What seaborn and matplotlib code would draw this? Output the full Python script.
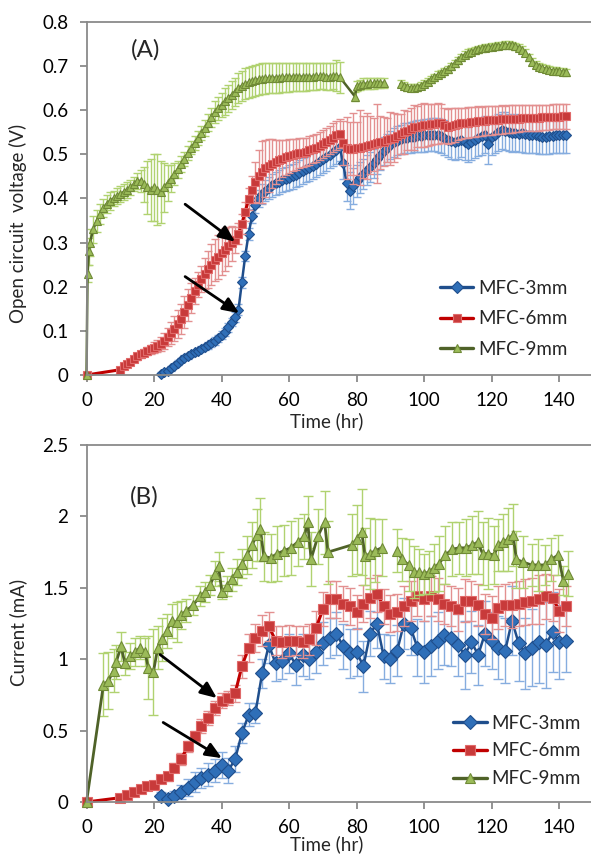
import numpy as np
import pandas as pd
import seaborn as sns
import matplotlib.pyplot as plt
from matplotlib.lines import Line2D
from matplotlib.ticker import FuncFormatter, MultipleLocator

# ---------------- (A) open circuit voltage (V), hourly readings ----------------
hours_a_3mm = np.arange(22, 143)
ocv_3mm = [
    0.003, 0.006, 0.010, 0.015, 0.021, 0.028, 0.034, 0.039, 0.043, 0.047,
    0.051, 0.055, 0.059, 0.063, 0.067, 0.072, 0.077, 0.083, 0.090, 0.098,
    0.108, 0.120, 0.132, 0.148, 0.210, 0.270, 0.320, 0.360, 0.385, 0.400,
    0.410, 0.418, 0.424, 0.430, 0.434, 0.438, 0.441, 0.444, 0.447, 0.450,
    0.454, 0.458, 0.462, 0.466, 0.470, 0.474, 0.479, 0.484, 0.489, 0.494,
    0.499, 0.505, 0.510, 0.517, 0.480, 0.435, 0.418, 0.428, 0.440, 0.448,
    0.456, 0.464, 0.472, 0.480, 0.489, 0.498, 0.507, 0.515, 0.522, 0.527,
    0.531, 0.534, 0.536, 0.537, 0.539, 0.540, 0.541, 0.542, 0.543, 0.544,
    0.545, 0.545, 0.544, 0.542, 0.538, 0.533, 0.530, 0.528, 0.530, 0.533,
    0.528, 0.523, 0.528, 0.533, 0.538, 0.541, 0.544, 0.523, 0.540, 0.545,
    0.550, 0.555, 0.553, 0.550, 0.548, 0.549, 0.547, 0.548, 0.546, 0.544,
    0.545, 0.543, 0.541, 0.540, 0.540, 0.541, 0.542, 0.543, 0.544, 0.543,
    0.544,
]
ocv_3mm_err = [
    0.003, 0.004, 0.004, 0.005, 0.005, 0.005, 0.005, 0.006, 0.006, 0.006,
    0.006, 0.006, 0.007, 0.007, 0.007, 0.008, 0.008, 0.008, 0.009, 0.009,
    0.010, 0.010, 0.011, 0.012, 0.012, 0.012, 0.014, 0.016, 0.018, 0.020,
    0.022, 0.024, 0.025, 0.026, 0.026, 0.027, 0.027, 0.028, 0.028, 0.028,
    0.028, 0.029, 0.029, 0.029, 0.030, 0.030, 0.030, 0.030, 0.031, 0.031,
    0.031, 0.031, 0.032, 0.032, 0.035, 0.040, 0.042, 0.040, 0.036, 0.035,
    0.034, 0.034, 0.034, 0.033, 0.033, 0.033, 0.032, 0.032, 0.032, 0.032,
    0.033, 0.033, 0.034, 0.034, 0.035, 0.035, 0.036, 0.036, 0.037, 0.037,
    0.038, 0.038, 0.038, 0.039, 0.039, 0.039, 0.040, 0.040, 0.040, 0.040,
    0.040, 0.040, 0.041, 0.041, 0.041, 0.042, 0.042, 0.045, 0.042, 0.042,
    0.042, 0.042, 0.042, 0.042, 0.042, 0.042, 0.042, 0.042, 0.042, 0.041,
    0.041, 0.041, 0.041, 0.040, 0.040, 0.040, 0.040, 0.040, 0.040, 0.040,
    0.040,
]

hours_a_6mm = np.r_[0, np.arange(10, 143)]
ocv_6mm = [
    0.000,
    0.012, 0.020, 0.025, 0.030, 0.036, 0.042, 0.047, 0.050, 0.054, 0.058,
    0.062, 0.066, 0.071, 0.078, 0.086, 0.095, 0.105, 0.115, 0.127, 0.142,
    0.158, 0.174, 0.190, 0.205, 0.218, 0.230, 0.240, 0.250, 0.260, 0.268,
    0.276, 0.284, 0.292, 0.298, 0.306, 0.320, 0.342, 0.370, 0.398, 0.420,
    0.437, 0.450, 0.460, 0.468, 0.474, 0.479, 0.483, 0.487, 0.490, 0.493,
    0.496, 0.498, 0.500, 0.502, 0.504, 0.506, 0.509, 0.512, 0.515, 0.519,
    0.523, 0.528, 0.533, 0.538, 0.543, 0.547, 0.525, 0.515, 0.513, 0.513,
    0.514, 0.515, 0.517, 0.519, 0.521, 0.523, 0.525, 0.527, 0.529, 0.532,
    0.535, 0.538, 0.542, 0.546, 0.550, 0.554, 0.558, 0.561, 0.563, 0.565,
    0.566, 0.567, 0.568, 0.569, 0.570, 0.570, 0.566, 0.563, 0.565, 0.567,
    0.569, 0.570, 0.571, 0.572, 0.573, 0.574, 0.575, 0.575, 0.576, 0.577,
    0.577, 0.578, 0.578, 0.579, 0.579, 0.580, 0.580, 0.581, 0.581, 0.582,
    0.582, 0.582, 0.583, 0.583, 0.583, 0.584, 0.584, 0.584, 0.585, 0.585,
    0.585, 0.586, 0.586,
]
ocv_6mm_err = [
    0.000,
    0.004, 0.005, 0.006, 0.006, 0.007, 0.007, 0.008, 0.008, 0.009, 0.010,
    0.012, 0.014, 0.016, 0.018, 0.020, 0.024, 0.028, 0.032, 0.035, 0.036,
    0.036, 0.034, 0.030, 0.028, 0.030, 0.036, 0.042, 0.046, 0.048, 0.050,
    0.050, 0.048, 0.044, 0.040, 0.030, 0.024, 0.022, 0.022, 0.025, 0.030,
    0.045, 0.060, 0.070, 0.065, 0.060, 0.055, 0.050, 0.045, 0.042, 0.040,
    0.038, 0.036, 0.035, 0.034, 0.033, 0.032, 0.032, 0.032, 0.032, 0.032,
    0.032, 0.032, 0.032, 0.032, 0.032, 0.032, 0.050, 0.070, 0.060, 0.080,
    0.060, 0.085, 0.070, 0.075, 0.065, 0.060, 0.090, 0.060, 0.055, 0.050,
    0.060, 0.055, 0.050, 0.045, 0.050, 0.045, 0.048, 0.050, 0.046, 0.048,
    0.050, 0.048, 0.046, 0.045, 0.046, 0.045, 0.040, 0.040, 0.040, 0.038,
    0.036, 0.036, 0.035, 0.035, 0.034, 0.034, 0.034, 0.033, 0.033, 0.033,
    0.032, 0.032, 0.032, 0.032, 0.031, 0.031, 0.031, 0.030, 0.030, 0.030,
    0.030, 0.030, 0.029, 0.029, 0.029, 0.028, 0.028, 0.028, 0.028, 0.028,
    0.028, 0.028, 0.028,
]

hours_a_9mm = np.r_[0, 0.3, 0.7, np.arange(1, 76), 79.5, np.arange(80, 89), 90.5, np.arange(93, 143)]
ocv_9mm = [
    0.000, 0.230, 0.280,
    0.300, 0.330, 0.350, 0.365, 0.378, 0.388, 0.395, 0.400, 0.405, 0.410,
    0.415, 0.420, 0.425, 0.432, 0.440, 0.440, 0.432, 0.425, 0.420, 0.425,
    0.420, 0.415, 0.425, 0.435, 0.445, 0.455, 0.466, 0.478, 0.490, 0.503,
    0.515, 0.526, 0.537, 0.548, 0.560, 0.572, 0.584, 0.596, 0.604, 0.612,
    0.620, 0.627, 0.635, 0.642, 0.650, 0.655, 0.660, 0.663, 0.666, 0.668,
    0.670, 0.671, 0.672, 0.673, 0.673, 0.674, 0.674, 0.675, 0.675, 0.675,
    0.676, 0.676, 0.676, 0.676, 0.676, 0.676, 0.676, 0.677, 0.677, 0.677,
    0.676, 0.676, 0.677, 0.678, 0.675,
    0.631,
    0.655, 0.657, 0.660, 0.660, 0.661, 0.661, 0.662, 0.662, 0.662,
    np.nan,
    0.660, 0.655, 0.652, 0.651, 0.651, 0.652, 0.655, 0.660, 0.665, 0.670,
    0.675, 0.680, 0.684, 0.688, 0.693, 0.700, 0.706, 0.713, 0.720, 0.726,
    0.730, 0.733, 0.736, 0.738, 0.740, 0.742, 0.743, 0.744, 0.745, 0.746,
    0.747, 0.748, 0.748, 0.747, 0.745, 0.742, 0.737, 0.730, 0.720, 0.710,
    0.703, 0.699, 0.696, 0.694, 0.692, 0.690, 0.689, 0.688, 0.687, 0.686,
]
ocv_9mm_err = [
    0.000, 0.020, 0.030,
    0.030, 0.030, 0.025, 0.022, 0.020, 0.020, 0.020, 0.018, 0.018, 0.018,
    0.018, 0.018, 0.016, 0.016, 0.018, 0.025, 0.040, 0.060, 0.070, 0.075,
    0.080, 0.070, 0.055, 0.040, 0.030, 0.025, 0.020, 0.018, 0.016, 0.015,
    0.015, 0.015, 0.016, 0.016, 0.018, 0.020, 0.022, 0.024, 0.026, 0.028,
    0.030, 0.030, 0.032, 0.032, 0.034, 0.034, 0.035, 0.035, 0.035, 0.035,
    0.035, 0.035, 0.035, 0.035, 0.034, 0.034, 0.034, 0.033, 0.033, 0.033,
    0.032, 0.032, 0.032, 0.032, 0.032, 0.031, 0.031, 0.031, 0.030, 0.030,
    0.030, 0.030, 0.030, 0.035, 0.035,
    0.010,
    0.012, 0.012, 0.012, 0.012, 0.012, 0.012, 0.012, 0.012, 0.012,
    np.nan,
    0.008, 0.008, 0.008, 0.008, 0.008, 0.008, 0.008, 0.008, 0.008, 0.008,
    0.008, 0.008, 0.008, 0.008, 0.008, 0.008, 0.008, 0.008, 0.008, 0.008,
    0.008, 0.008, 0.008, 0.008, 0.008, 0.008, 0.008, 0.008, 0.008, 0.008,
    0.008, 0.008, 0.008, 0.008, 0.008, 0.008, 0.008, 0.008, 0.008, 0.008,
    0.008, 0.008, 0.008, 0.008, 0.008, 0.008, 0.008, 0.008, 0.008, 0.008,
]

# ---------------- (B) current (mA) ----------------
hours_b_3mm = np.arange(22, 143, 2)
cur_3mm = [
    0.04, 0.02, 0.04, 0.07, 0.10, 0.14, 0.17, 0.19, 0.22, 0.26,
    0.22, 0.30, 0.48, 0.61, 0.62, 0.90, 1.10, 0.97, 0.99, 1.04,
    0.96, 1.03, 1.00, 1.05, 1.11, 1.15, 1.18, 1.09, 1.04, 1.05,
    0.95, 1.18, 1.25, 1.02, 1.00, 1.06, 1.25, 1.22, 1.08, 1.05,
    1.09, 1.13, 1.17, 1.15, 1.10, 1.03, 1.12, 1.03, 1.18, 1.13,
    1.08, 1.06, 1.27, 1.11, 1.04, 1.08, 1.12, 1.10, 1.19, 1.12,
    1.13,
]
cur_3mm_err = [
    0.03, 0.03, 0.04, 0.05, 0.06, 0.07, 0.07, 0.08, 0.08, 0.09,
    0.09, 0.09, 0.07, 0.08, 0.07, 0.10, 0.13, 0.12, 0.13, 0.14,
    0.14, 0.15, 0.14, 0.15, 0.15, 0.14, 0.15, 0.16, 0.17, 0.17,
    0.18, 0.16, 0.17, 0.16, 0.17, 0.18, 0.18, 0.19, 0.20, 0.22,
    0.21, 0.20, 0.21, 0.20, 0.22, 0.24, 0.22, 0.21, 0.23, 0.20,
    0.22, 0.23, 0.24, 0.26, 0.25, 0.27, 0.29, 0.30, 0.28, 0.26,
    0.22,
]

hours_b_6mm = np.r_[0, np.arange(10, 143, 2)]
cur_6mm = [
    0.00,
    0.03, 0.05, 0.07, 0.09, 0.11, 0.12, 0.16, 0.18, 0.24, 0.30,
    0.39, 0.46, 0.53, 0.59, 0.66, 0.71, 0.73, 0.76, 0.95, 1.08,
    1.15, 1.20, 1.23, 1.13, 1.12, 1.13, 1.13, 1.12, 1.14, 1.22,
    1.35, 1.42, 1.42, 1.39, 1.37, 1.33, 1.39, 1.43, 1.46, 1.37,
    1.32, 1.33, 1.37, 1.41, 1.44, 1.42, 1.44, 1.42, 1.39, 1.37,
    1.35, 1.41, 1.41, 1.38, 1.32, 1.29, 1.36, 1.38, 1.38, 1.39,
    1.40, 1.41, 1.42, 1.44, 1.43, 1.34, 1.37,
]
cur_6mm_err = [
    0.00,
    0.01, 0.02, 0.02, 0.02, 0.02, 0.02, 0.03, 0.03, 0.03, 0.04,
    0.04, 0.04, 0.05, 0.05, 0.05, 0.05, 0.05, 0.06, 0.08, 0.10,
    0.10, 0.11, 0.10, 0.10, 0.11, 0.11, 0.10, 0.11, 0.11, 0.12,
    0.12, 0.13, 0.13, 0.12, 0.13, 0.12, 0.13, 0.14, 0.13, 0.12,
    0.13, 0.13, 0.14, 0.14, 0.14, 0.15, 0.14, 0.15, 0.14, 0.14,
    0.15, 0.15, 0.14, 0.15, 0.14, 0.15, 0.15, 0.15, 0.16, 0.16,
    0.16, 0.16, 0.17, 0.16, 0.16, 0.15, 0.14,
]

hours_b_9mm = [
    0, 5.0, 6.5, 8.0, 8.8, 10.2, 11.4, 12.9, 14.4, 15.8, 17.3, 18.3, 19.8,
    21.1, 22.5, 23.8, 25.2, 26.7, 28.1, 29.6, 31.6, 33.6, 35.1, 36.6, 38.1,
    39.1, 40.1, 41.6, 43.0, 44.5, 46.0, 47.5, 49.0, 50.5, 51.5, 52.5, 54.5,
    56.5, 58.5, 60.5, 62.5, 64.5, 65.5, 66.5, 68.5, 70.5, 71.5, 78.5, 80.0,
    81.5, 82.5, 84.0, 85.5, 87.4, 89.5, 91.9, 93.4, 95.4, 96.9, 98.4, 99.9,
    101.4, 102.9, 104.4, 106.3, 108.3, 110.3, 112.3, 114.3, 115.8, 117.3,
    118.8, 120.8, 121.8, 123.3, 124.8, 126.3, 127.3, 129.3, 131.8, 133.8,
    135.7, 137.7, 139.7, 141.2, 142.7,
]
cur_9mm = [
    0.00, 0.82, 0.85, 0.92, 0.98, 1.09, 0.97, 1.02, 1.05, 1.08, 1.05, 0.94, 0.91,
    1.08, 1.14, 1.20, 1.27, 1.26, 1.31, 1.34, 1.38, 1.44, 1.47, 1.52, 1.60,
    1.65, 1.47, 1.51, 1.56, 1.61, 1.67, 1.73, 1.80, 1.87, 1.91, 1.72, 1.71,
    1.74, 1.76, 1.78, 1.82, 1.86, 1.96, 1.70, 1.86, 1.96, 1.75, 1.80, 1.84,
    1.89, 1.72, 1.74, 1.76, 1.78, np.nan, 1.76, 1.70, 1.66, 1.61, 1.61, 1.60,
    1.61, 1.64, 1.67, 1.73, 1.77, 1.78, 1.78, 1.80, 1.82, 1.74,
    1.74, 1.73, 1.80, 1.82, 1.84, 1.87, 1.70, 1.68, 1.66, 1.66,
    1.66, 1.70, 1.73, 1.55, 1.60,
]
cur_9mm_err = [
    0.00, 0.22, 0.20, 0.15, 0.12, 0.10, 0.08, 0.09, 0.10, 0.08, 0.10, 0.22, 0.30,
    0.15, 0.15, 0.12, 0.12, 0.14, 0.10, 0.08, 0.07, 0.07, 0.07, 0.07, 0.09,
    0.10, 0.05, 0.07, 0.08, 0.09, 0.10, 0.13, 0.16, 0.18, 0.22, 0.17, 0.17,
    0.19, 0.18, 0.19, 0.17, 0.16, 0.18, 0.19, 0.19, 0.22, 0.22, 0.22, 0.24,
    0.30, 0.20, 0.25, 0.22, 0.20, np.nan, 0.15, 0.15, 0.18, 0.18, 0.16, 0.14,
    0.15, 0.17, 0.19, 0.20, 0.19, 0.18, 0.20, 0.20, 0.22, 0.22,
    0.25, 0.20, 0.18, 0.20, 0.22, 0.22, 0.20, 0.18, 0.15, 0.18,
    0.14, 0.15, 0.14, 0.10, 0.16,
]

series_names = ["MFC-3mm", "MFC-6mm", "MFC-9mm"]
styles = {
    "MFC-3mm": dict(line="#1f4e8c", face="#2f6fb8", edge="#1f4e8c", err="#86addf", marker="D"),
    "MFC-6mm": dict(line="#c00000", face="#c83a3a", edge="#e06a6a", err="#e39090", marker="s"),
    "MFC-9mm": dict(line="#4f6228", face="#9bbb59", edge="#6f8a36", err="#b0d270", marker="^"),
}
AX_GRAY = "#8a8a8a"

sns.set_theme(style="ticks")
plt.rcParams["font.family"] = ["Lato", "DejaVu Sans"]


def draw(ax, hours, vals, errs, name, ms, lw, cap):
    st = styles[name]
    t = np.asarray(hours, float)
    v = np.asarray(vals, float)
    e = np.asarray(errs, float)
    ax.errorbar(t, v, yerr=e, fmt="none", ecolor=st["err"], elinewidth=1,
                capsize=cap, capthick=1)
    # a missing reading breaks the line, as in the original sheet
    df = pd.DataFrame({"t": t, "v": v, "seg": np.cumsum(np.isnan(v))}).dropna()
    for _, d in df.groupby("seg"):
        sns.lineplot(data=d, x="t", y="v", ax=ax, color=st["line"], lw=lw,
                     marker=st["marker"], ms=ms, mfc=st["face"], mec=st["edge"],
                     mew=0.8, estimator=None, errorbar=None, sort=False, clip_on=False)


def style_axis(ax, ymax, ystep):
    ax.set_xlim(0, 149.4)
    ax.set_ylim(0, ymax)
    ax.yaxis.set_major_locator(MultipleLocator(ystep))
    ax.set_xticks(np.arange(0, 141, 20))
    ax.yaxis.set_major_formatter(FuncFormatter(lambda y, _: f"{y:g}"))
    ax.spines["right"].set_visible(False)
    for s in ["left", "bottom", "top"]:
        ax.spines[s].set_color(AX_GRAY)
        ax.spines[s].set_linewidth(1.3)
    ax.tick_params(axis="both", direction="out", length=5, width=1.3,
                   color=AX_GRAY, labelsize=13.5, labelcolor="black")
    ax.tick_params(axis="y", pad=8)
    ax.tick_params(axis="x", pad=7, top=False)


def add_legend(ax, x0, yc, spacing, ms):
    handles = []
    for name in series_names:
        st = styles[name]
        handles.append(Line2D([], [], color=st["line"], lw=2.4, marker=st["marker"],
                              ms=ms, mfc=st["face"], mec=st["edge"], mew=0.8))
    ax.legend(handles, series_names, loc="center left", bbox_to_anchor=(x0, yc),
              frameon=False, fontsize=13.5, handlelength=1.8, handletextpad=0.25,
              labelspacing=spacing, borderpad=0, borderaxespad=0, numpoints=1)


def arrow(ax, start, tip):
    ax.annotate("", xy=tip, xytext=start,
                arrowprops=dict(arrowstyle="-|>,head_length=0.7,head_width=0.3",
                                color="black", lw=2, shrinkA=0, shrinkB=0,
                                mutation_scale=14))


fig = plt.figure(figsize=(5.91, 8.55), dpi=100)
ax_a = fig.add_axes([0.1464, 0.5614, 0.8536, 0.4129])
ax_b = fig.add_axes([0.1464, 0.0620, 0.8536, 0.4175])

# panel A
draw(ax_a, hours_a_3mm, ocv_3mm, ocv_3mm_err, "MFC-3mm", 5.5, 1.8, 3)
draw(ax_a, hours_a_6mm, ocv_6mm, ocv_6mm_err, "MFC-6mm", 5.5, 2.2, 3)
draw(ax_a, hours_a_9mm, ocv_9mm, ocv_9mm_err, "MFC-9mm", 6, 1.8, 3)
style_axis(ax_a, 0.8, 0.1)
ax_a.set_xlabel("Time (hr)", fontsize=13.5)
ax_a.set_ylabel("Open circuit  voltage (V)", fontsize=13.5)
ax_a.xaxis.set_label_coords(0.477, -0.105)
ax_a.yaxis.set_label_coords(-0.118, 0.428)
ax_a.text(17.5, 0.737, "(A)", fontsize=17.5, ha="center", va="center")
arrow(ax_a, (29.2, 0.387), (44.0, 0.302))
arrow(ax_a, (29.2, 0.223), (45.2, 0.140))
add_legend(ax_a, 0.70, 0.159, 0.72, 6)

# panel B
draw(ax_b, hours_b_3mm, cur_3mm, cur_3mm_err, "MFC-3mm", 7, 1.8, 3.5)
draw(ax_b, hours_b_6mm, cur_6mm, cur_6mm_err, "MFC-6mm", 6.5, 2.2, 3.5)
draw(ax_b, hours_b_9mm, cur_9mm, cur_9mm_err, "MFC-9mm", 7.5, 2.0, 3.5)
style_axis(ax_b, 2.5, 0.5)
ax_b.set_xlabel("Time (hr)", fontsize=13.5)
ax_b.set_ylabel("Current (mA)", fontsize=13.5)
ax_b.xaxis.set_label_coords(0.477, -0.094)
ax_b.yaxis.set_label_coords(-0.118, 0.476)
ax_b.text(17.0, 2.14, "(B)", fontsize=17.5, ha="center", va="center")
arrow(ax_b, (21.8, 1.032), (38.6, 0.728))
arrow(ax_b, (22.7, 0.557), (40.1, 0.307))
add_legend(ax_b, 0.726, 0.143, 0.58, 7)

fig.savefig("out.png", dpi=100)
